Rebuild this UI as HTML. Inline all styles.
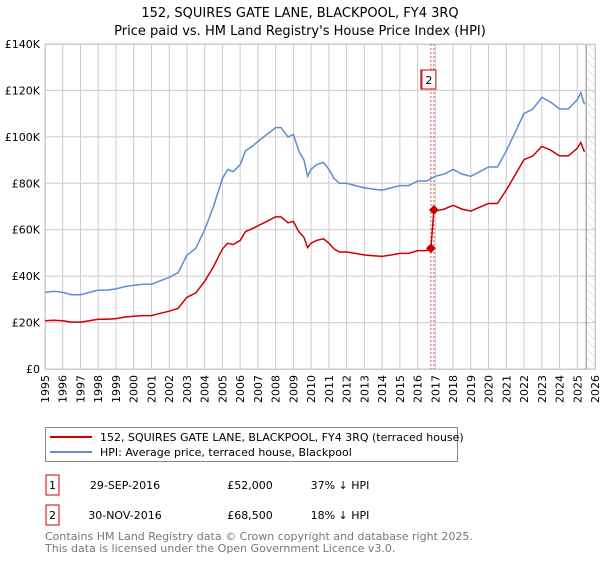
<!DOCTYPE html>
<html><head><meta charset="utf-8"><style>
body{margin:0;background:#fff;font-family:"Liberation Sans","DejaVu Sans",sans-serif;}
svg text{font-family:"DejaVu Sans","Liberation Sans",sans-serif;}
</style></head><body>
<svg id="c" width="600" height="560" xmlns="http://www.w3.org/2000/svg">
<defs><pattern id="hatch" width="6" height="6" patternUnits="userSpaceOnUse" patternTransform="rotate(-45)"><line x1="0" y1="0" x2="0" y2="6" stroke="#ccc" stroke-width="1"/></pattern></defs>
<text x="300" y="17" text-anchor="middle" font-size="13">152, SQUIRES GATE LANE, BLACKPOOL, FY4 3RQ</text>
<text x="300" y="35" text-anchor="middle" font-size="13">Price paid vs. HM Land Registry's House Price Index (HPI)</text>
<g id="grid"></g><g id="series"></g>
<g>
<rect x="45.5" y="427.5" width="412" height="34" fill="#fff" stroke="#888"/>
<line x1="50" y1="437" x2="92" y2="437" stroke="#cc0000" stroke-width="2"/>
<text x="100" y="441" font-size="11">152, SQUIRES GATE LANE, BLACKPOOL, FY4 3RQ (terraced house)</text>
<line x1="50" y1="452" x2="92" y2="452" stroke="#5b8fd0" stroke-width="2"/>
<text x="100" y="456" font-size="11">HPI: Average price, terraced house, Blackpool</text>
</g>
<g font-size="11">
<rect x="46" y="475" width="13" height="20" fill="none" stroke="#cc0000"/><text x="52.5" y="489" text-anchor="middle">1</text>
<text x="125" y="489" text-anchor="middle">29-SEP-2016</text><text x="250" y="489" text-anchor="middle">£52,000</text><text x="340" y="489" text-anchor="middle">37% ↓ HPI</text>
<rect x="46" y="505" width="13" height="20" fill="none" stroke="#cc0000"/><text x="52.5" y="519" text-anchor="middle">2</text>
<text x="125" y="519" text-anchor="middle">30-NOV-2016</text><text x="250" y="519" text-anchor="middle">£68,500</text><text x="340" y="519" text-anchor="middle">18% ↓ HPI</text>
</g>
<text x="45" y="540" font-size="11" fill="#777">Contains HM Land Registry data © Crown copyright and database right 2025.</text>
<text x="45" y="552" font-size="11" fill="#777">This data is licensed under the Open Government Licence v3.0.</text>
</svg>
<script>
const hpiYears=[1995,1995.5,1996,1996.5,1997,1997.5,1998,1998.5,1999,1999.5,2000,2000.5,2001,2001.5,2002,2002.5,2003,2003.5,2004,2004.5,2005,2005.3,2005.6,2006,2006.3,2006.7,2007,2007.5,2008,2008.3,2008.7,2009,2009.3,2009.6,2009.8,2010,2010.3,2010.7,2011,2011.3,2011.6,2012,2012.5,2013,2013.5,2014,2014.5,2015,2015.5,2016,2016.5,2017,2017.5,2018,2018.5,2019,2019.5,2020,2020.5,2021,2021.5,2022,2022.5,2023,2023.5,2024,2024.5,2025,2025.2,2025.4];
const hpiValues=[33,33.5,33,32,32,33,34,34,34.5,35.5,36,36.5,36.5,38,39.5,41.5,49,52,60,70,82,86,85,88,94,96,98,101,104,104,100,101,94,90,83,86,88,89,86,82,80,80,79,78,77.5,77,78,79,79,81,81,83,84,86,84,83,85,87,87,94,102,110,112,117,115,112,112,116,119,114];
const priceYears=[1995,1995.5,1996,1996.5,1997,1997.5,1998,1998.5,1999,1999.5,2000,2000.5,2001,2001.5,2002,2002.5,2003,2003.5,2004,2004.5,2005,2005.3,2005.6,2006,2006.3,2006.7,2007,2007.5,2008,2008.3,2008.7,2009,2009.3,2009.6,2009.8,2010,2010.3,2010.7,2011,2011.3,2011.6,2012,2012.5,2013,2013.5,2014,2014.5,2015,2015.5,2016,2016.5,2016.75,2016.92,2017,2017.5,2018,2018.5,2019,2019.5,2020,2020.5,2021,2021.5,2022,2022.5,2023,2023.5,2024,2024.5,2025,2025.2,2025.4];
const priceValues=[20.8,21,20.8,20.2,20.2,20.8,21.4,21.4,21.7,22.4,22.7,23,23,24,24.9,26.1,30.9,32.8,37.8,44.1,51.7,54.2,53.6,55.4,59.2,60.5,61.7,63.6,65.5,65.5,63,63.6,59.2,56.7,52.3,54.2,55.4,56.1,54.2,51.7,50.4,50.4,49.8,49.1,48.8,48.5,49.1,49.8,49.8,51,51,52,68.5,68,68.9,70.5,68.9,68,69.7,71.3,71.3,77.1,83.6,90.2,91.8,95.9,94.3,91.8,91.8,95.1,97.6,93.5];
const saleYears=[2016.75,2016.92];
const saleValues=[52,68.5];
const yTicks=[0,20,40,60,80,100,120,140];
const yLabels=["£0","£20K","£40K","£60K","£80K","£100K","£120K","£140K"];
const xTicks=[];for(let y=1995;y<=2026;y++)xTicks.push(y);

const X0=45,X1=595,Y0=369,Y1=44;
const sx=y=>X0+(y-1995)/31*(X1-X0);
const sy=v=>Y0-v/140*(Y0-Y1);
const NS="http://www.w3.org/2000/svg";
function mk(t,a,p){const e=document.createElementNS(NS,t);for(const k in a)e.setAttribute(k,a[k]);p.appendChild(e);return e;}
const g=document.getElementById('grid'),s=document.getElementById('series');
xTicks.forEach(y=>{
 const l=mk('line',{x1:sx(y),x2:sx(y),y1:Y1,y2:Y0,stroke:'#ccc'},g);
 
 
 const t=mk('text',{x:0,y:0,'font-size':11,transform:`translate(${sx(y)+4},${Y0+6}) rotate(-90)`,'text-anchor':'end'},g);
 t.textContent=y;
 
 
});
yTicks.forEach((v,i)=>{
 const l=mk('line',{x1:X0,x2:X1,y1:sy(v),y2:sy(v),stroke:'#ccc'},g);
 
 
 const t=mk('text',{x:X0-5,y:sy(v)+4,'font-size':11,'text-anchor':'end'},g);
 t.textContent=yLabels[i];
 
 
});
const h=mk('rect',{x:sx(2025.5),y:Y1,width:X1-sx(2025.5),height:Y0-Y1,fill:'url(#hatch)'},g);


mk('line',{x1:sx(2025.5),x2:sx(2025.5),y1:Y1,y2:Y0,stroke:'#888'},g);
mk('rect',{x:X0+0.5,y:Y1+0.5,width:X1-X0,height:Y0-Y1,fill:'none',stroke:'#ccc'},g);
saleYears.forEach(y=>{
 const l=mk('line',{x1:sx(y),x2:sx(y),y1:Y1,y2:Y0,stroke:'#e05050','stroke-dasharray':'2,2'},s);
 
 
});
mk('rect',{x:sx(saleYears[0])-10,y:70,width:14,height:19,fill:'#fff',stroke:'#cc0000'},s);
const bx=mk('rect',{x:sx(saleYears[1])-12,y:70,width:14,height:19,fill:'#fff',stroke:'#cc0000'},s);


const bt=mk('text',{x:sx(saleYears[1])-5,y:84,'font-size':11,'text-anchor':'middle'},s);bt.textContent='2';
function path(xs,vs){return xs.map((y,i)=>(i?'L':'M')+sx(y).toFixed(1)+','+sy(vs[i]).toFixed(1)).join('');}
const hp=mk('path',{d:path(hpiYears,hpiValues),fill:'none',stroke:'#5b8fd0','stroke-width':1.5},s);


const pp=mk('path',{d:path(priceYears,priceValues),fill:'none',stroke:'#cc0000','stroke-width':1.5},s);


saleYears.forEach((y,i)=>{
 const d=mk('rect',{x:sx(y)-3.5,y:sy(saleValues[i])-3.5,width:7,height:7,fill:'#cc0000',transform:`rotate(45 ${sx(y)} ${sy(saleValues[i])})`},s);
 
 
});
</script>
</body></html>
